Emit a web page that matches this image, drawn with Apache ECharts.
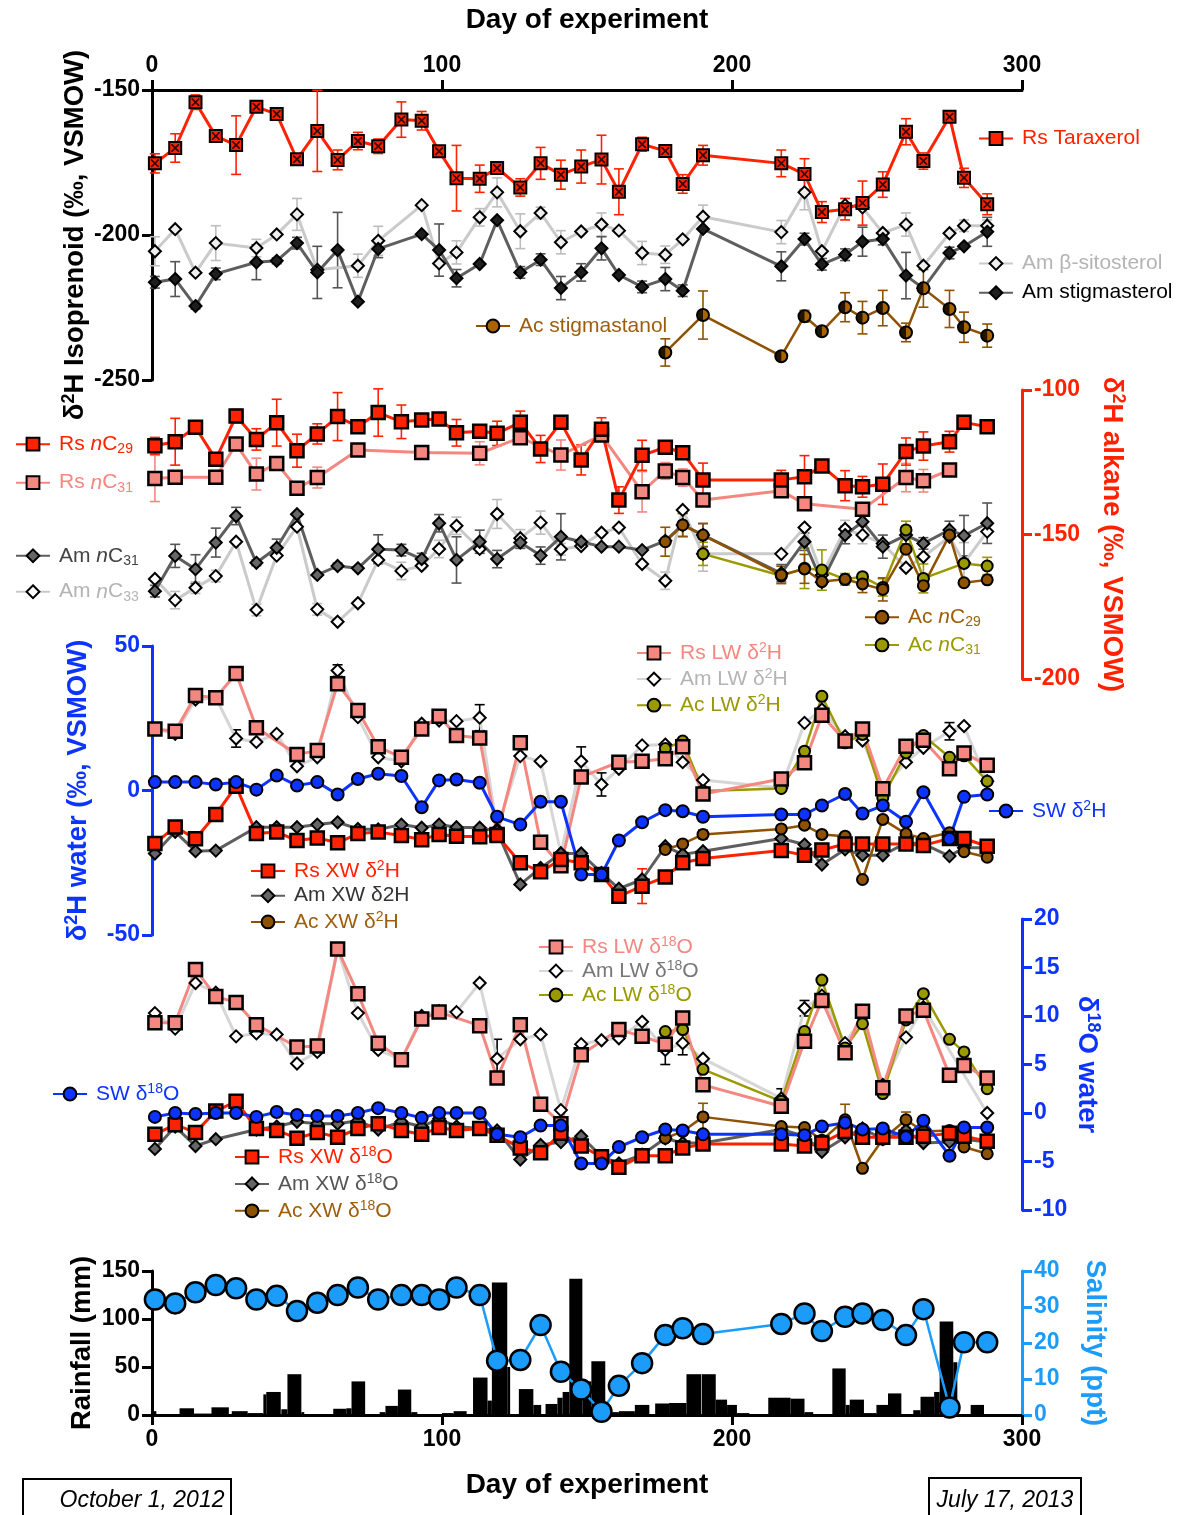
<!DOCTYPE html>
<html>
<head>
<meta charset="utf-8">
<script src="https://cdn.jsdelivr.net/npm/echarts@6/dist/echarts.min.js"></script>
<style>
  html, body { margin: 0; padding: 0; background: #fff; }
  #chart { width: 1179px; height: 1515px; }
</style>
</head>
<body>
<div id="chart"></div>
<script>
// ---- sampling days (day of experiment) ----
const sampleDays = [1, 8, 15, 22, 29, 36, 43, 50, 57, 64, 71, 78, 86, 93, 99, 105, 113, 119, 127, 134, 141, 148, 155, 161, 169, 177, 183, 190, 217, 225, 231, 239, 245, 252, 260, 266, 275, 280, 288];
const acDays = [177, 183, 190, 217, 225, 231, 239, 245, 252, 260, 266, 275, 280, 288];

// ---- isoprenoid d2H (per mil) ----
const rsTaraxerol = [-175.3, -170.0, -154.2, -165.9, -169.0, -155.8, -158.3, -173.9, -164.1, -174.1, -167.6, -169.4, -160.2, -160.6, -171.1, -180.4, -180.6, -176.9, -183.6, -175.3, -179.2, -176.4, -174.0, -185.1, -168.7, -171.0, -182.4, -172.5, -175.3, -179.0, -192.1, -191.1, -189.0, -182.6, -164.4, -174.5, -159.2, -180.3, -189.4];
const rsTaraxerolSd = [3.3, 4.9, 2.5, 0, 10.1, 1, 0, 0, 14, 3.4, 3, 2.5, 6.1, 3.2, 0, 11.3, 4.7, 0, 3, 5.5, 5, 5.7, 8.4, 7.9, 2.4, 0, 3.2, 3.4, 4.6, 5.3, 3.6, 3.7, 7.6, 4.4, 4.5, 2.8, 1.7, 3.3, 3.6];
const amSitosterol = [-205.6, -198.0, -213.0, -202.8, null, -204.5, -199.8, -192.9, -212.0, null, -210.6, -202.0, null, -189.7, -209.8, -206.0, -193.9, -185.3, -198.7, -192.4, -202.5, -198.8, -196.4, -198.5, -206.2, -206.8, -201.5, -193.7, -199.0, -185.3, -205.6, -189.7, -190.5, -199.3, -196.4, -210.6, -199.4, -196.8, -196.8];
const amSitosterolSd = [5, 0, 0, 6, 0, 3, 0, 5.5, 0, 0, 4, 5, 0, 0, 0, 4, 3, 5, 6, 2, 4, 0, 4, 0, 4, 3, 0, 4, 4, 6, 0, 0, 0, 0, 4, 0, 0, 2, 2];
const amStigmasterol = [-216.3, -215.2, -224.5, -213.4, null, -209.4, -208.9, -202.8, -212.9, -205.2, -223.0, -204.8, null, -199.7, -205.2, -214.9, -210.0, -194.9, -212.9, -208.5, -218.3, -212.9, -204.6, -213.8, -217.9, -215.2, -219.2, -197.9, -210.8, -201.4, -210.1, -206.8, -202.3, -201.4, -214.0, -218.4, -206.2, -203.9, -198.9];
const amStigmasterolSd = [2, 6, 1, 2, 0, 6, 1, 2, 9, 13, 0, 3, 0, 0, 9, 3, 0, 0, 2, 2, 4, 3, 4, 0, 2, 4, 2, 0, 5, 2, 2, 2, 5, 2, 8, 0, 2, 0, 5];
const acStigmastanol = [-240.5, null, -227.6, -241.8, -228.0, -233.2, -224.9, -228.5, -225.2, -233.6, -218.4, -225.5, -231.8, -234.7];
const acStigmastanolSd = [4.7, 0, 8.3, 1, 2, 1, 5, 5.6, 6.1, 3.2, 6.5, 6.4, 5.2, 4];

// ---- n-alkane d2H (per mil) ----
const rsC29 = [-119.3, -117.9, -112.9, -124.0, -109.0, -117.1, -111.3, -121.0, -115.2, -109.2, -112.7, -107.8, -111.0, -110.4, -110.0, -114.8, -114.3, -115.0, -111.2, -120.4, -111.2, -124.2, -113.6, -138.1, -122.6, -119.8, -121.7, -131.1, -131.1, -130.0, -126.3, -133.1, -133.5, -132.6, -121.3, -119.4, -117.9, -111.2, -112.7];
const rsC29Sd = [2.9, 8.1, 0, 0, 2.3, 3.7, 8.1, 5.7, 3.5, 8.3, 0, 8.2, 5.8, 0, 0, 4.6, 0, 4.2, 3.9, 4.7, 0, 5.2, 4.0, 4.6, 5.2, 0, 0, 5.8, 3.3, 7.3, 0, 5.2, 3.6, 7, 4.7, 4.9, 3.6, 0, 0];
const rsC31 = [-130.6, -130.2, null, -130.2, -118.7, -129.1, -125.4, -134.0, -130.3, null, -120.8, null, null, -121.6, null, null, -121.9, null, -116.5, null, -122.5, null, -115.6, null, -135.2, -128.0, -130.3, -138.1, -134.9, -139.4, null, null, -141.3, null, -130.3, -131.4, -127.7, null, null];
const rsC31Sd = [8, 0, 0, 0, 0, 5.5, 0, 0, 3.6, 0, 0, 0, 0, 0, 0, 0, 4, 0, 0, 0, 5.2, 0, 0, 0, 7, 2.9, 3, 0, 0, 0, 0, 0, 0, 0, 4.9, 3.9, 0, 0, 0];
const amC31 = [-169.6, -157.4, -162.0, -152.8, -143.6, -159.8, -154.6, -143.0, -164.0, -160.9, -161.7, -155.1, -155.4, -158.5, -146.1, -158.8, -152.5, -158.5, -152.8, -157.3, -150.8, -152.5, -154.2, -154.2, -155.4, -152.2, -146.7, -150.2, -163.4, -152.5, -166.5, -150.2, -145.6, -154.2, -150.2, -153.1, -148.4, -150.4, -146.1];
const amC31Sd = [2, 4, 5, 5, 3, 1, 3, 0, 0, 1, 0, 5, 2, 2, 3, 8, 4, 3, 2, 3, 8, 0, 0, 0, 0, 0, 4, 4, 3, 3, 0, 3, 0, 4, 3, 2, 3, 7, 7];
const amC33 = [-165.4, -172.7, -168.4, -164.4, -152.5, -176.1, -157.3, -147.3, -175.9, -180.2, -173.8, -158.8, -162.6, -160.8, -155.0, -147.0, -155.0, -142.9, -151.3, -145.9, -155.1, -154.0, -149.4, -147.6, -160.2, -166.0, -141.5, -156.7, -156.7, -147.6, -164.0, -148.1, -150.2, -153.1, -161.5, -157.7, -150.8, -159.8, -149.0];
const amC33Sd = [0, 3, 2, 2, 0, 2, 0, 0, 2, 0, 0, 0, 3, 1, 3, 3, 0, 5, 3, 4, 2, 0, 0, 0, 0, 3, 0, 6, 0, 0, 0, 3, 3, 0, 0, 0, 0, 7, 0];
const acC29 = [-152.5, -146.7, -150.2, -164.0, -161.9, -166.3, -165.5, -167.1, -169.0, -155.1, -167.7, -150.2, -166.7, -165.7];
const acC29Sd = [5, 4, 4, 3, 5, 0, 0, 3, 4, 0, 0, 0, 0, 0];
const acC31 = [null, null, -156.7, -164.3, -161.7, -162.3, -165.5, -164.6, -168.3, -148.4, -165.2, null, -160.0, -160.9];
const acC31Sd = [0, 0, 4, 0, 7, 7, 2, 0, 3, 3, 5, 0, 0, 3];

// ---- water d2H (per mil): leaf water (LW), xylem water (XW), surface water (SW) ----
const rsLwH = [21.3, 20.5, 32.9, 32.1, 40.5, 21.7, null, 12.5, 13.8, 36.9, 27.7, 15.1, 11.5, 21.3, 25.7, 19.0, 18.2, -15.2, 16.5, -17.9, -26.0, 4.7, null, 9.8, 10.1, 11.0, 15.1, -1.2, 4.0, 9.6, 26.0, 17.1, 21.3, 0.6, 15.3, 17.4, 7.5, 13.0, 8.7];
const rsLwHSd = [0, 0, 0, 0, 0, 0, 0, 0, 0, 2, 0, 0, 0, 0, 0, 0, 0, 0, 0, 0, 0, 0, 0, 0, 0, 0, 0, 0, 0, 0, 0, 0, 0, 0, 0, 0, 0, 0, 0];
const amLwH = [21.3, 19.6, 31.5, 32.1, 18.0, 16.8, 19.6, 8.4, 11.5, 41.5, 25.4, 11.5, 10.1, 23.1, 24.2, 24.0, 25.2, -13.5, 11.9, 10.1, -21.8, 10.1, 2.1, 7.5, 15.6, 15.9, 9.8, 3.6, 0.9, 23.4, 28.0, 18.8, 17.3, 0.5, 9.8, 14.8, 20.5, 22.3, 3.2];
const amLwHSd = [0, 0, 0, 0, 3, 0, 0, 0, 0, 2, 0, 0, 0, 0, 0, 0, 4.5, 0, 0, 0, 0, 5, 4, 0, 0, 0, 0, 0, 0, 0, 0, 0, 0, 0, 0, 0, 3, 0, 0];
const acLwH = [14.5, 17.1, -0.2, 0.7, 13.6, 32.6, 16.5, 19.4, -2.5, 13.0, 19.0, 11.5, 12.0, 3.2];
const swH = [2.9, 2.9, 2.9, 2.1, 2.9, 0.3, 5.2, 1.7, 2.9, -1.4, 4.0, 5.8, 5.0, -5.8, 3.5, 3.8, 2.7, -9.1, -11.8, -3.9, -3.9, -29.1, -29.1, -17.3, -11.0, -6.8, -7.2, -9.1, -8.3, -8.3, -5.2, -1.2, -8.0, -5.2, -10.8, -0.6, -16.7, -2.2, -1.4];
const rsXwH = [-18.3, -12.6, -16.7, -8.3, 1.5, -14.9, -14.4, -17.3, -16.4, -18.1, -14.9, -14.4, -15.6, -17.0, -15.2, -15.8, -16.0, -15.6, -25.0, -28.1, -23.9, -25.0, -29.1, -36.6, -33.1, -29.9, -25.0, -23.5, -20.8, -22.4, -20.6, -18.5, -18.5, -18.5, -18.5, -19.0, -16.6, -16.6, -19.3];
const rsXwHSd = [0, 0, 0, 0, 0, 0, 0, 0, 0, 0, 0, 0, 0, 0, 0, 0, 0, 0, 0, 0, 0, 0, 0, 0, 6, 0, 0, 0, 0, 0, 0, 0, 0, 0, 0, 0, 0, 0, 0];
const amXwH = [-21.8, -14.3, -21.0, -20.8, null, -12.7, -12.7, -12.7, -11.8, -11.0, -13.3, -13.5, -11.8, -12.9, -11.8, -12.7, -12.9, -14.1, -32.5, -26.8, -21.8, -21.8, -28.5, -34.0, -30.8, -19.3, -22.1, -21.0, -16.6, -18.7, -25.6, -20.4, -22.4, -22.4, -18.1, -18.5, -22.7, -19.8, -19.8];
const acXwH = [-20.4, -18.5, -15.2, -13.3, -12.0, -15.2, -15.8, -30.8, -10.0, -15.0, -16.6, -14.6, -21.2, -23.1];
const acXwHSd = [0, 0, 1.5, 0, 0, 0, 0, 0, 0, 0, 0, 0, 0, 0];

// ---- water d18O (per mil) ----
const rsLwO = [9.3, 9.3, 14.8, 12.0, 11.4, 9.1, null, 6.8, 6.9, 16.9, 12.3, 7.2, 5.5, 9.7, 10.4, null, 9.0, 3.6, 9.1, 0.9, -1.1, 6.0, null, 8.6, 7.9, 7.1, 9.8, 2.9, 0.7, 7.4, 11.6, 6.2, 10.5, 2.6, 10.0, 10.6, 3.9, 4.9, 3.6];
const amLwO = [10.3, 8.7, 13.4, 12.4, 7.9, 8.2, 8.1, 5.1, 6.3, 16.9, 10.3, 6.5, 5.5, 10.0, 10.5, 10.4, 13.4, 5.6, 7.6, 8.1, 0.3, 7.1, 7.5, 7.7, 9.4, 6.5, 7.2, 5.6, 1.5, 10.8, 12.1, 7.2, 9.9, 2.9, 7.8, 10.9, null, null, 0.0];
const amLwOSd = [0, 0, 0, 0, 0, 0, 0, 0, 0, 0, 0, 0, 0, 0, 0, 0, 0, 2, 0, 0, 0, 0, 0, 0, 0, 1.5, 1.2, 0, 1, 0.8, 0, 0, 0.5, 0, 0, 0, 0, 0, 0];
const acLwO = [8.4, 8.6, 4.5, 1.2, 8.4, 13.7, 6.7, 9.2, 2.0, 9.6, 12.3, 7.6, 6.3, 2.5];
const swO = [-0.4, 0.0, -0.1, 0.0, 0.0, -0.4, 0.1, -0.2, -0.3, -0.3, 0.0, 0.5, 0.0, -0.5, 0.0, 0.0, 0.0, -2.2, -2.5, -1.3, -1.3, -5.2, -5.2, -3.5, -2.5, -1.7, -1.8, -2.2, -2.2, -2.3, -1.4, -1.0, -1.7, -1.6, -2.5, -0.8, -4.4, -1.5, -1.5];
const rsXwO = [-2.2, -1.2, -2.0, 0.2, 1.2, -1.6, -1.8, -2.6, -2.0, -2.5, -1.6, -1.1, -1.8, -2.2, -1.5, -1.8, -1.6, -2.3, -3.6, -4.1, -2.1, -3.4, -4.5, -5.6, -4.4, -4.4, -3.6, -3.2, -3.2, -3.4, -3.1, -1.9, -2.5, -2.5, -2.5, -2.4, -2.1, -2.4, -2.9];
const amXwO = [-3.7, -1.4, -3.4, -2.7, null, -1.7, -1.4, -0.9, -1.1, -1.1, -0.8, -1.7, -0.9, -1.4, -0.6, -1.4, -1.6, -1.8, -4.8, -3.3, -3.0, -2.4, -4.5, -5.2, -4.3, -2.6, -3.1, -3.1, -1.7, -2.4, -4.0, -2.5, -1.6, -2.7, -1.8, -3.1, -3.0, -2.7, -3.0];
const acXwO = [-2.6, -1.9, -0.4, -1.4, -1.5, -2.8, -0.7, -5.7, -2.7, -0.7, -1.9, -1.8, -3.5, -4.2];
const acXwOSd = [0, 0, 1.4, 0, 0, 0, 1.6, 0, 0, 0.8, 0, 0, 0, 0];

// ---- salinity (ppt) ----
const salinity = [32.1, 31.0, 34.1, 36.1, 35.2, 32.1, 33.1, 28.9, 31.2, 33.3, 35.4, 32.1, 33.3, 33.3, 32.1, 35.4, 33.3, 15.1, 15.3, 25.0, 12.0, 7.1, 0.9, 8.1, 14.4, 22.2, 24.1, 22.5, 25.3, 28.2, 23.3, 27.3, 28.2, 26.4, 22.2, 29.4, 2.1, 20.2, 20.2];

// ---- rainfall (mm) over day spans ----
const rainStart = [0, 9.5, 14.5, 20.5, 27.5, 33, 38.4, 39.4, 44.6, 46.7, 51.5, 62.5, 67, 68.8, 78.5, 80.5, 84.8, 89.4, 100, 104, 110.7, 115.7, 117.2, 122.5, 126.5, 131.5, 135.7, 139.8, 141.6, 143.9, 148.4, 151.5, 156.3, 157.5, 161, 166.5, 173.5, 178.3, 184.3, 189.6, 194.4, 198.3, 201.7, 212.5, 220.2, 225, 234.6, 239.2, 240.6, 245.5, 249.8, 253.8, 262.5, 265, 269.7, 271.6, 276.3, 282.3];
const rainEnd = [1.5, 14.5, 20.5, 26.5, 33, 38.4, 39.4, 44.4, 46.7, 51.5, 52.5, 67, 68.8, 73.5, 80.5, 84.8, 89.4, 91.5, 104, 108.5, 115.7, 117.2, 122.5, 123.5, 131.5, 134.2, 139.8, 141.6, 143.9, 148.4, 151.5, 156.3, 157.5, 161, 166.5, 171.5, 178.3, 184.3, 189.4, 194.4, 198.3, 201.7, 206, 220.2, 225, 228, 239.2, 240.6, 245.5, 249.8, 253.8, 258.4, 265, 269.7, 271.6, 276.3, 277.7, 286.9];
const rainMm = [4, 7, 1.5, 8, 4, 2, 21.5, 24, 6, 42.5, 3, 6.5, 7, 35, 3, 9.5, 26.5, 3, 2, 4, 39, 15, 138, 50, 27, 10.5, 11.5, 18, 24, 142, 35, 56, 5, 3, 4, 10.5, 12, 12.5, 42.5, 42.5, 16, 10.5, 2, 18, 17, 3, 48.5, 10.5, 16, 2, 10.5, 22.5, 5, 19, 24, 97.5, 55, 10.5];

// ---- axis ticks ----
const dayTicks = {min: 0, max: 300, interval: 100};
const isoTicks = {min: -250, max: -150, interval: 50};
const alkTicks = {min: -200, max: -100, interval: 50};
const waterHTicks = {min: -50, max: 50, interval: 50};
const waterOTicks = {min: -10, max: 20, interval: 5};
const rainTicks = {min: 0, max: 150, interval: 50};
const salTicks = {min: 0, max: 40, interval: 10};

// ---- styling ----
const FONT = '"Liberation Sans", Arial, Helvetica, sans-serif';
const RED = '#ff2200', SALMON = '#f4877f', LGRAY = '#cacaca', DGRAY = '#5e5e5e',
      BROWN = '#8e5200', OLIVE = '#9a9a00', BLUE = '#0c33ff', SKY = '#1c9cfa';
const TXT_BROWN = '#9c5e0c', TXT_OLIVE = '#9a9a00', TXT_LGRAY = '#b4b4b4';

const P1 = {x: 0, y: 0}, P2 = {x: 1, y: 1}, P3 = {x: 2, y: 2}, P4 = {x: 3, y: 3}, PR = {x: 4, y: 4}, PS = {x: 4, y: 5};

function pairs(days, vals) {
  const out = [];
  days.forEach((d, i) => { if (vals[i] != null) out.push([d, vals[i]]); });
  return out;
}
function triples(days, vals, sd) {
  const out = [];
  days.forEach((d, i) => { if (vals[i] != null && sd[i]) out.push([d, vals[i], sd[i]]); });
  return out;
}

function lineSeries(name, days, vals, panel, o) {
  return {
    type: 'line', name, xAxisIndex: panel.x, yAxisIndex: panel.y,
    data: pairs(days, vals),
    symbol: o.symbol, symbolSize: o.size,
    lineStyle: {color: o.line, width: o.width || 2.5},
    itemStyle: {color: o.fill, borderColor: '#000', borderWidth: o.border || 2},
    z: 3, silent: true, emphasis: {disabled: true}
  };
}

function errSeries(days, vals, sd, panel, color) {
  return {
    type: 'custom', xAxisIndex: panel.x, yAxisIndex: panel.y, z: 2, silent: true,
    data: triples(days, vals, sd),
    encode: {x: 0, y: 1},
    renderItem(params, api) {
      const d = api.value(0), v = api.value(1), e = api.value(2);
      const hi = api.coord([d, v + e]), lo = api.coord([d, v - e]);
      const c = 5;
      const st = () => ({stroke: color, lineWidth: 1.6});
      return {type: 'group', children: [
        {type: 'line', shape: {x1: hi[0], y1: hi[1], x2: lo[0], y2: lo[1]}, style: st()},
        {type: 'line', shape: {x1: hi[0] - c, y1: hi[1], x2: hi[0] + c, y2: hi[1]}, style: st()},
        {type: 'line', shape: {x1: lo[0] - c, y1: lo[1], x2: lo[0] + c, y2: lo[1]}, style: st()}
      ]};
    }
  };
}

function overlay(days, vals, panel, symbol, size, extra) {
  return Object.assign({
    type: 'scatter', xAxisIndex: panel.x, yAxisIndex: panel.y, z: 4, silent: true,
    data: pairs(days, vals), symbol, symbolSize: size,
    itemStyle: {color: '#000'}, emphasis: {disabled: true}
  }, extra || {});
}

const X_MARK = 'path://M0,0 L3,0 L10,7 L17,0 L20,0 L20,3 L13,10 L20,17 L20,20 L17,20 L10,13 L3,20 L0,20 L0,17 L7,10 L0,3 Z';
const HALF_DISC = 'path://M50,0 A50,50 0 0 0 50,100 Z';

// ---- axes ----
function xAxisCfg(grid, position, tick, withName, gap) {
  const a = Object.assign({type: 'value', gridIndex: grid}, tick);
  if (!withName) return Object.assign(a, {show: false});
  return Object.assign(a, {
    position,
    axisLine: {show: true, onZero: false, lineStyle: {color: '#000', width: 3}},
    axisTick: {show: true, length: 10, lineStyle: {color: '#000', width: 3}},
    axisLabel: {color: '#000', fontSize: 23, fontWeight: 'bold', fontFamily: FONT, margin: 13},
    splitLine: {show: false},
    name: 'Day of experiment', nameLocation: 'middle', nameGap: gap, nameMoveOverlap: false,
    nameTextStyle: {color: '#000', fontSize: 28, fontWeight: 'bold', fontFamily: FONT}
  });
}

function yAxisCfg(grid, position, tick, color, name, gap) {
  return Object.assign({type: 'value', gridIndex: grid, position}, tick, {
    axisLine: {show: true, onZero: false, lineStyle: {color, width: 3}},
    axisTick: {show: true, length: 10, lineStyle: {color, width: 3}},
    axisLabel: {color, fontSize: 23, fontWeight: 'bold', fontFamily: FONT, margin: 12},
    splitLine: {show: false},
    name, nameLocation: 'middle', nameGap: gap, nameMoveOverlap: false,
    nameRotate: position === 'left' ? 90 : -90,
    nameTextStyle: {
      color, fontSize: 27.5, fontWeight: 'bold', fontFamily: FONT,
      rich: {sup: {color, fontSize: 18, fontWeight: 'bold', fontFamily: FONT, padding: [0, 0, 12, 0]}}
    }
  });
}

// ---- legends ----
const legendColor = {
  'Rs Taraxerol': RED, 'Am β-sitosterol': TXT_LGRAY, 'Am stigmasterol': '#000', 'Ac stigmastanol': TXT_BROWN,
  'Rs nC29': RED, 'Rs nC31': SALMON, 'Am nC31': '#444', 'Am nC33': TXT_LGRAY, 'Ac nC29': TXT_BROWN, 'Ac nC31': TXT_OLIVE,
  'Rs LW δ2H': SALMON, 'Am LW δ2H': TXT_LGRAY, 'Ac LW δ2H': TXT_OLIVE, 'SW δ2H': BLUE,
  'Rs XW δ2H': RED, 'Am XW δ2H': '#333', 'Ac XW δ2H': TXT_BROWN,
  'Rs LW δ18O': SALMON, 'Am LW δ18O': '#777', 'Ac LW δ18O': TXT_OLIVE, 'SW δ18O': BLUE,
  'Rs XW δ18O': RED, 'Am XW δ18O': '#555', 'Ac XW δ18O': TXT_BROWN
};
const legendText = {
  'Rs nC29': 'Rs {i|n}C{sub|29}', 'Rs nC31': 'Rs {i|n}C{sub|31}',
  'Am nC31': 'Am {i|n}C{sub|31}', 'Am nC33': 'Am {i|n}C{sub|33}',
  'Ac nC29': 'Ac {i|n}C{sub|29}', 'Ac nC31': 'Ac {i|n}C{sub|31}',
  'Rs LW δ2H': 'Rs LW δ{sup|2}H', 'Am LW δ2H': 'Am LW δ{sup|2}H', 'Ac LW δ2H': 'Ac LW δ{sup|2}H',
  'SW δ2H': 'SW δ{sup|2}H', 'Rs XW δ2H': 'Rs XW δ{sup|2}H', 'Ac XW δ2H': 'Ac XW δ{sup|2}H',
  'Rs LW δ18O': 'Rs LW δ{sup|18}O', 'Am LW δ18O': 'Am LW δ{sup|18}O', 'Ac LW δ18O': 'Ac LW δ{sup|18}O',
  'SW δ18O': 'SW δ{sup|18}O', 'Rs XW δ18O': 'Rs XW δ{sup|18}O', 'Am XW δ18O': 'Am XW δ{sup|18}O', 'Ac XW δ18O': 'Ac XW δ{sup|18}O'
};
function richFor(color) {
  return {
    i: {color, fontSize: 21, fontStyle: 'italic', fontFamily: FONT},
    sub: {color, fontSize: 14, fontFamily: FONT, padding: [10, 0, 0, 0]},
    sup: {color, fontSize: 14, fontFamily: FONT, padding: [0, 0, 10, 0]}
  };
}
function legendGroup(names, left, top, gap) {
  return {
    data: names.map(n => ({name: n, textStyle: {color: legendColor[n], rich: richFor(legendColor[n])}})),
    left, top, orient: 'vertical', itemGap: gap, itemWidth: 34, itemHeight: 16,
    selectedMode: false,
    itemStyle: {borderWidth: 2},
    textStyle: {fontSize: 21, fontFamily: FONT, padding: [0, 0, 0, 4]},
    formatter: n => legendText[n] || n
  };
}

const series = [
  // isoprenoids
  errSeries(sampleDays, amSitosterol, amSitosterolSd, P1, '#bdbdbd'),
  lineSeries('Am β-sitosterol', sampleDays, amSitosterol, P1, {symbol: 'diamond', size: 12, fill: '#efefef', line: LGRAY, width: 3}),
  errSeries(sampleDays, amStigmasterol, amStigmasterolSd, P1, '#555'),
  lineSeries('Am stigmasterol', sampleDays, amStigmasterol, P1, {symbol: 'diamond', size: 12, fill: '#1e1e1e', line: DGRAY, width: 3}),
  errSeries(acDays, acStigmastanol, acStigmastanolSd, P1, BROWN),
  lineSeries('Ac stigmastanol', acDays, acStigmastanol, P1, {symbol: 'circle', size: 12, fill: '#a86400', line: BROWN, width: 2.5}),
  overlay(acDays, acStigmastanol, P1, HALF_DISC, 11, {symbolKeepAspect: true, symbolOffset: [-2.75, 0]}),
  errSeries(sampleDays, rsTaraxerol, rsTaraxerolSd, P1, RED),
  lineSeries('Rs Taraxerol', sampleDays, rsTaraxerol, P1, {symbol: 'rect', size: 12, fill: RED, line: RED, width: 3}),
  overlay(sampleDays, rsTaraxerol, P1, X_MARK, 8),

  // n-alkanes
  errSeries(sampleDays, amC33, amC33Sd, P2, '#bdbdbd'),
  lineSeries('Am nC33', sampleDays, amC33, P2, {symbol: 'diamond', size: 12, fill: '#ffffff', line: LGRAY, width: 3}),
  errSeries(sampleDays, amC31, amC31Sd, P2, '#555'),
  lineSeries('Am nC31', sampleDays, amC31, P2, {symbol: 'diamond', size: 12, fill: '#666666', line: DGRAY, width: 3}),
  errSeries(acDays, acC31, acC31Sd, P2, OLIVE),
  lineSeries('Ac nC31', acDays, acC31, P2, {symbol: 'circle', size: 11, fill: OLIVE, line: OLIVE, width: 2.5}),
  errSeries(acDays, acC29, acC29Sd, P2, BROWN),
  lineSeries('Ac nC29', acDays, acC29, P2, {symbol: 'circle', size: 11, fill: BROWN, line: BROWN, width: 2.5}),
  errSeries(sampleDays, rsC31, rsC31Sd, P2, SALMON),
  lineSeries('Rs nC31', sampleDays, rsC31, P2, {symbol: 'rect', size: 13, fill: SALMON, line: SALMON, width: 3, border: 2.5}),
  errSeries(sampleDays, rsC29, rsC29Sd, P2, RED),
  lineSeries('Rs nC29', sampleDays, rsC29, P2, {symbol: 'rect', size: 13, fill: RED, line: RED, width: 3, border: 2.5}),

  // water d2H
  errSeries(sampleDays, amLwH, amLwHSd, P3, '#000'),
  lineSeries('Am LW δ2H', sampleDays, amLwH, P3, {symbol: 'diamond', size: 12, fill: '#ffffff', line: '#d6d6d6', width: 3}),
  lineSeries('Ac LW δ2H', acDays, acLwH, P3, {symbol: 'circle', size: 11, fill: OLIVE, line: OLIVE, width: 2.5}),
  errSeries(sampleDays, rsLwH, rsLwHSd, P3, '#000'),
  lineSeries('Rs LW δ2H', sampleDays, rsLwH, P3, {symbol: 'rect', size: 13, fill: SALMON, line: SALMON, width: 3, border: 2.5}),
  lineSeries('Am XW δ2H', sampleDays, amXwH, P3, {symbol: 'diamond', size: 12, fill: '#666666', line: DGRAY, width: 3}),
  errSeries(acDays, acXwH, acXwHSd, P3, BROWN),
  lineSeries('Ac XW δ2H', acDays, acXwH, P3, {symbol: 'circle', size: 11, fill: BROWN, line: BROWN, width: 2.5}),
  errSeries(sampleDays, rsXwH, rsXwHSd, P3, RED),
  lineSeries('Rs XW δ2H', sampleDays, rsXwH, P3, {symbol: 'rect', size: 13, fill: RED, line: RED, width: 3, border: 2.5}),
  lineSeries('SW δ2H', sampleDays, swH, P3, {symbol: 'circle', size: 12, fill: BLUE, line: BLUE, width: 3}),

  // water d18O
  errSeries(sampleDays, amLwO, amLwOSd, P4, '#000'),
  lineSeries('Am LW δ18O', sampleDays, amLwO, P4, {symbol: 'diamond', size: 12, fill: '#ffffff', line: '#d6d6d6', width: 3}),
  lineSeries('Ac LW δ18O', acDays, acLwO, P4, {symbol: 'circle', size: 11, fill: OLIVE, line: OLIVE, width: 2.5}),
  lineSeries('Rs LW δ18O', sampleDays, rsLwO, P4, {symbol: 'rect', size: 13, fill: SALMON, line: SALMON, width: 3, border: 2.5}),
  lineSeries('Am XW δ18O', sampleDays, amXwO, P4, {symbol: 'diamond', size: 12, fill: '#666666', line: DGRAY, width: 3}),
  errSeries(acDays, acXwO, acXwOSd, P4, BROWN),
  lineSeries('Ac XW δ18O', acDays, acXwO, P4, {symbol: 'circle', size: 11, fill: BROWN, line: BROWN, width: 2.5}),
  lineSeries('Rs XW δ18O', sampleDays, rsXwO, P4, {symbol: 'rect', size: 13, fill: RED, line: RED, width: 3, border: 2.5}),
  lineSeries('SW δ18O', sampleDays, swO, P4, {symbol: 'circle', size: 12, fill: BLUE, line: BLUE, width: 3}),

  // rainfall and salinity
  {
    type: 'custom', name: 'Rainfall', xAxisIndex: PR.x, yAxisIndex: PR.y, z: 1, silent: true,
    data: rainStart.map((s, i) => [s, rainEnd[i], rainMm[i]]),
    encode: {x: [0, 1], y: 2},
    renderItem(params, api) {
      const p0 = api.coord([api.value(0), api.value(2)]);
      const p1 = api.coord([api.value(1), 0]);
      return {type: 'rect', shape: {x: p0[0], y: p0[1], width: p1[0] - p0[0], height: p1[1] - p0[1]}, style: {fill: '#000'}};
    }
  },
  lineSeries('Salinity', sampleDays, salinity, PS, {symbol: 'circle', size: 20, fill: SKY, line: SKY, width: 2.5, border: 2.5})
];

const option = {
  animation: false,
  backgroundColor: '#ffffff',
  textStyle: {fontFamily: FONT},
  grid: [
    {left: 152, right: 157, top: 90, height: 290},
    {left: 152, right: 157, top: 390, height: 289},
    {left: 152, right: 157, top: 646, height: 289},
    {left: 152, right: 157, top: 919, height: 291},
    {left: 152, right: 157, top: 1271, height: 144}
  ],
  xAxis: [
    xAxisCfg(0, 'top', dayTicks, true, 56),
    xAxisCfg(1, 'bottom', dayTicks, false),
    xAxisCfg(2, 'bottom', dayTicks, false),
    xAxisCfg(3, 'bottom', dayTicks, false),
    xAxisCfg(4, 'bottom', dayTicks, true, 56)
  ],
  yAxis: [
    yAxisCfg(0, 'left', isoTicks, '#000', 'δ{sup|2}H Isoprenoid (‰, VSMOW)', 62),
    yAxisCfg(1, 'right', alkTicks, RED, 'δ{sup|2}H alkane (‰, VSMOW)', 75),
    yAxisCfg(2, 'left', waterHTicks, BLUE, 'δ{sup|2}H water (‰, VSMOW)', 59),
    yAxisCfg(3, 'right', waterOTicks, BLUE, 'δ{sup|18}O water', 50),
    yAxisCfg(4, 'left', rainTicks, '#000', 'Rainfall (mm)', 56),
    yAxisCfg(4, 'right', salTicks, SKY, 'Salinity (ppt)', 59)
  ],
  legend: [
    legendGroup(['Rs Taraxerol'], 973, 123, 10),
    legendGroup(['Am β-sitosterol', 'Am stigmasterol'], 973, 248, 8.2),
    legendGroup(['Ac stigmastanol'], 470, 310.5, 10),
    legendGroup(['Rs nC29', 'Rs nC31'], 10, 428.7, 16),
    legendGroup(['Am nC31', 'Am nC33'], 10, 540.3, 13.4),
    legendGroup(['Ac nC29', 'Ac nC31'], 859, 601.7, 5.2),
    legendGroup(['Rs LW δ2H', 'Am LW δ2H', 'Ac LW δ2H'], 631, 636, 3.6),
    legendGroup(['Rs XW δ2H', 'Am XW δ2H', 'Ac XW δ2H'], 245, 854, 3.7),
    legendGroup(['SW δ2H'], 983, 794, 2),
    legendGroup(['Rs LW δ18O', 'Am LW δ18O', 'Ac LW δ18O'], 533, 930, 1.5),
    legendGroup(['SW δ18O'], 47, 1077, 2),
    legendGroup(['Rs XW δ18O', 'Am XW δ18O', 'Ac XW δ18O'], 229, 1140, 4.4)
  ],
  graphic: [
    {type: 'group', left: 22, top: 1478, children: [
      {type: 'rect', shape: {x: 0, y: 0, width: 208, height: 48}, style: {fill: '#fff', stroke: '#000', lineWidth: 2}},
      {type: 'text', x: 119, y: 22, style: {text: 'October 1, 2012', font: 'italic 23px "Liberation Sans", Arial, sans-serif', fill: '#000', align: 'center', verticalAlign: 'middle'}}
    ]},
    {type: 'group', left: 928, top: 1477, children: [
      {type: 'rect', shape: {x: 0, y: 0, width: 152, height: 48}, style: {fill: '#fff', stroke: '#000', lineWidth: 2}},
      {type: 'text', x: 76, y: 23, style: {text: 'July 17, 2013', font: 'italic 23px "Liberation Sans", Arial, sans-serif', fill: '#000', align: 'center', verticalAlign: 'middle'}}
    ]}
  ],
  series
};

const chart = echarts.init(document.getElementById('chart'), null, {renderer: 'canvas'});
chart.setOption(option);
</script>
</body>
</html>
